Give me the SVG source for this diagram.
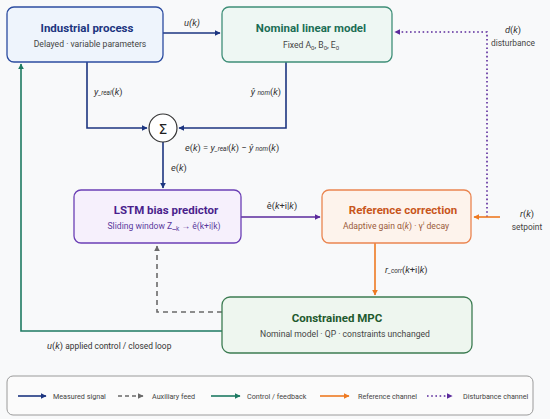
<svg xmlns="http://www.w3.org/2000/svg" width="550" height="419" viewBox="0 0 550 419">
<defs>
<style>
text{font-family:"Roboto","Liberation Sans",sans-serif;}
.t{font-size:11.5px;font-weight:bold;text-anchor:middle;}
.s{font-size:8.6px;text-anchor:middle;}
.l{font-size:9.3px;fill:#333;}
.lg{font-size:7.2px;fill:#444;}
.i{font-style:italic;}
.sub{font-size:6.5px;font-style:italic;}
.navy{stroke:#1c3580;stroke-width:1.6;fill:none;}
.green{stroke:#1d7a62;stroke-width:1.6;fill:none;}
.orange{stroke:#ee7a22;stroke-width:1.6;fill:none;}
.purple{stroke:#5b2a9c;stroke-width:1.6;fill:none;}
.pdot{stroke:#5b2a9c;stroke-width:1.6;fill:none;stroke-dasharray:1.6 2.6;}
.grey{stroke:#6a6a6a;stroke-width:1.6;fill:none;stroke-dasharray:5 4;}
</style>
<marker id="mNavy" viewBox="0 0 10 10" refX="9" refY="5" markerWidth="6" markerHeight="6" orient="auto" markerUnits="userSpaceOnUse"><path d="M0,0L10,5L0,10z" fill="#1c3580"/></marker>
<marker id="mGreen" viewBox="0 0 10 10" refX="9" refY="5" markerWidth="6" markerHeight="6" orient="auto" markerUnits="userSpaceOnUse"><path d="M0,0L10,5L0,10z" fill="#1d7a62"/></marker>
<marker id="mOrange" viewBox="0 0 10 10" refX="9" refY="5" markerWidth="6" markerHeight="6" orient="auto" markerUnits="userSpaceOnUse"><path d="M0,0L10,5L0,10z" fill="#ee7a22"/></marker>
<marker id="mPurple" viewBox="0 0 10 10" refX="9" refY="5" markerWidth="6" markerHeight="6" orient="auto" markerUnits="userSpaceOnUse"><path d="M0,0L10,5L0,10z" fill="#5b2a9c"/></marker>
<marker id="mGrey" viewBox="0 0 10 10" refX="9" refY="5" markerWidth="6" markerHeight="6" orient="auto" markerUnits="userSpaceOnUse"><path d="M0,0L10,5L0,10z" fill="#6a6a6a"/></marker>
</defs>
<rect width="550" height="419" fill="#f8f9fa"/>

<g id="connectors">
  <path class="navy" d="M163,33 L220,33" marker-end="url(#mNavy)"/>
  <path class="navy" d="M87,62 L87,128 L147,128" marker-end="url(#mNavy)"/>
  <path class="navy" d="M286,62 L286,128 L179,128" marker-end="url(#mNavy)"/>
  <path class="navy" d="M163,142 L163,188" marker-end="url(#mNavy)"/>
  <path class="purple" d="M241,217 L320,217" marker-end="url(#mPurple)"/>
  <path class="pdot" d="M487,217 L487,32 L395,32" marker-end="url(#mPurple)"/>
  <path class="orange" d="M500,217 L474,217" marker-end="url(#mOrange)"/>
  <path class="orange" d="M375,243 L375,295" marker-end="url(#mOrange)"/>
  <path class="grey" d="M222,312 L157,312 L157,246" marker-end="url(#mGrey)"/>
  <path class="green" d="M222,331 L21,331 L21,64" marker-end="url(#mGreen)"/>

  <text class="l i" x="192" y="26" text-anchor="middle">u(k)</text>
  <text class="l" x="94" y="95"><tspan class="i">y</tspan><tspan class="sub">_real</tspan>(<tspan class="i">k</tspan>)</text>
  <text class="l" x="281" y="95" text-anchor="end"><tspan class="i">ŷ</tspan> <tspan class="sub">nom</tspan>(<tspan class="i">k</tspan>)</text>
  <text class="l" x="185" y="151"><tspan class="i">e</tspan>(<tspan class="i">k</tspan>) = <tspan class="i">y</tspan><tspan class="sub">_real</tspan>(<tspan class="i">k</tspan>) − <tspan class="i">ŷ</tspan> <tspan class="sub">nom</tspan>(<tspan class="i">k</tspan>)</text>
  <text class="l" x="171" y="171"><tspan class="i">e</tspan>(<tspan class="i">k</tspan>)</text>
  <text class="l" x="282" y="209" text-anchor="middle">ê(<tspan class="i">k</tspan>+i|<tspan class="i">k</tspan>)</text>
  <text class="l" x="513" y="33" text-anchor="middle"><tspan class="i">d</tspan>(<tspan class="i">k</tspan>)</text>
  <text class="lg" x="513" y="46" text-anchor="middle" style="font-size:8.4px">disturbance</text>
  <text class="l" x="527" y="217" text-anchor="middle"><tspan class="i">r</tspan>(<tspan class="i">k</tspan>)</text>
  <text class="lg" x="527" y="229.5" text-anchor="middle" style="font-size:8.4px">setpoint</text>
  <text class="l" x="385" y="273"><tspan class="i">r</tspan><tspan class="sub">_corr</tspan>(<tspan class="i">k</tspan>+i|<tspan class="i">k</tspan>)</text>
  <text class="l" x="47" y="349"><tspan class="i">u</tspan>(<tspan class="i">k</tspan>) <tspan style="font-size:8.4px">applied control / closed loop</tspan></text>
</g>

<g id="industrial">
  <rect x="7" y="7" width="156" height="55" rx="7" fill="#eef4fc" stroke="#2c4ca0" stroke-width="1.3"/>
  <text class="t" x="87" y="32" fill="#1c3580">Industrial process</text>
  <text class="s" x="90" y="47" fill="#444">Delayed · variable parameters</text>
</g>

<g id="nominal">
  <rect x="222" y="7" width="170" height="55" rx="7" fill="#eef7f3" stroke="#3f8f78" stroke-width="1.3"/>
  <text class="t" x="311" y="32" fill="#1b6e55">Nominal linear model</text>
  <text class="s" x="311" y="48" fill="#444">Fixed A<tspan font-size="6" dy="2">0</tspan><tspan dy="-2">, B</tspan><tspan font-size="6" dy="2">0</tspan><tspan dy="-2">, E</tspan><tspan font-size="6" dy="2">0</tspan></text>
</g>

<g id="sum">
  <circle cx="163" cy="128" r="14" fill="#ffffff" stroke="#333" stroke-width="1.2"/>
  <text x="163" y="133.5" text-anchor="middle" style="font-family:'DejaVu Sans',sans-serif;font-size:14px" fill="#222">Σ</text>
</g>

<g id="lstm">
  <rect x="74" y="190" width="167" height="53" rx="7" fill="#f6f0fc" stroke="#6b3fb5" stroke-width="1.3"/>
  <text class="t" x="166" y="214" fill="#4a1f8c">LSTM bias predictor</text>
  <text class="s" x="164" y="229" fill="#5b3a9c">Sliding window Z_<tspan font-size="6.5" dy="1.5">k</tspan><tspan dy="-1.5"> → ê(k+i|k)</tspan></text>
</g>

<g id="refcorr">
  <rect x="322" y="190" width="149" height="53" rx="7" fill="#fdf3ec" stroke="#ea8550" stroke-width="1.3"/>
  <text class="t" x="403" y="214" fill="#c8561b">Reference correction</text>
  <text class="s" x="396" y="229" fill="#9a5a3a">Adaptive gain α(<tspan class="i">k</tspan>) · γ<tspan font-size="6" dy="-4">i</tspan><tspan dy="4">  decay</tspan></text>
</g>

<g id="mpc">
  <rect x="222" y="297" width="250" height="56" rx="8" fill="#eef6ef" stroke="#3c7c52" stroke-width="1.3"/>
  <text class="t" x="337" y="322" fill="#1e5a2e">Constrained MPC</text>
  <text class="s" x="345" y="337" fill="#444">Nominal model · QP · constraints unchanged</text>
</g>

<g id="legend">
  <rect x="7" y="376" width="526" height="39" rx="6" fill="#fbfbfb" stroke="#9a9a9a" stroke-width="1"/>
  <path class="navy" d="M18,396 L46,396" marker-end="url(#mNavy)"/>
  <text class="lg" x="53" y="399">Measured signal</text>
  <path class="grey" d="M118,396 L143,396" marker-end="url(#mGrey)" style="stroke-dasharray:4 3"/>
  <text class="lg" x="152" y="399">Auxiliary feed</text>
  <path class="green" d="M211,396 L240,396" marker-end="url(#mGreen)"/>
  <text class="lg" x="247" y="399">Control / feedback</text>
  <path class="orange" d="M320,396 L349,396" marker-end="url(#mOrange)"/>
  <text class="lg" x="358" y="399">Reference channel</text>
  <path class="pdot" d="M427,396 L452,396" marker-end="url(#mPurple)"/>
  <text class="lg" x="463" y="399">Disturbance channel</text>
</g>
</svg>
